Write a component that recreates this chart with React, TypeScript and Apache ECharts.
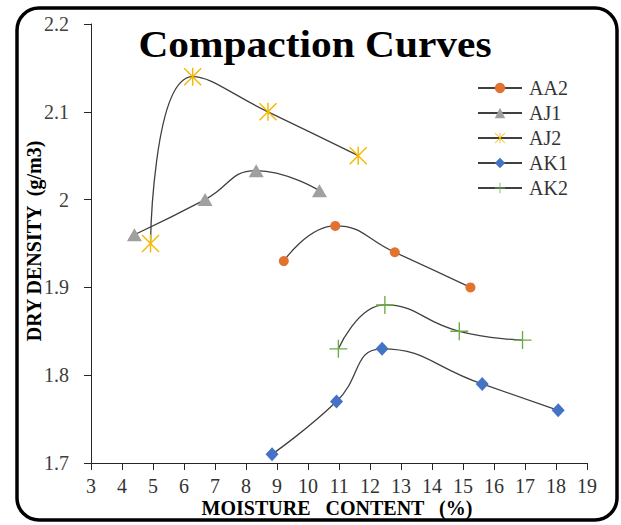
import React, { useEffect, useRef } from "react";
import * as echarts from "echarts";

const xTicks = { min: 3, max: 19, interval: 1 };
const yTicks = { min: 1.7, max: 2.2, interval: 0.1 };

const seriesNames = ["AA2", "AJ1", "AJ2", "AK1", "AK2"];

const aa2X = [9.22, 10.88, 12.8, 15.24];
const aa2Y = [1.93, 1.97, 1.94, 1.9];

const aj1X = [4.4, 6.68, 8.33, 10.37];
const aj1Y = [1.96, 2.0, 2.033, 2.01];

const aj2X = [4.92, 6.28, 8.71, 11.62];
const aj2Y = [1.95, 2.14, 2.1, 2.05];

const ak1X = [8.84, 10.92, 12.39, 15.62, 18.07];
const ak1Y = [1.71, 1.77, 1.83, 1.79, 1.76];

const ak2X = [10.98, 12.48, 14.88, 16.92];
const ak2Y = [1.83, 1.88, 1.85, 1.84];

const pairs = (xs: number[], ys: number[]) => xs.map((x, i) => [x, ys[i]]);

const ASTERISK =
  "path://M9.2 0L10.8 0L10.8 20L9.2 20Z M1.1 0L20 18.9L18.9 20L0 1.1Z M20 1.1L1.1 20L0 18.9L18.9 0Z";
const PLUS = "path://M9.25 0L10.75 0L10.75 20L9.25 20Z M0 9.25L20 9.25L20 10.75L0 10.75Z";

const FONT = "Liberation Serif";

export default function App() {
  const ref = useRef<HTMLDivElement>(null);

  useEffect(() => {
    document.body.style.margin = "0";
    const chart = echarts.init(ref.current!, undefined, { renderer: "svg" });

    const lineStyle = { color: "#404040", width: 1.3 };
    const mk = (
      name: string,
      data: number[][],
      symbol: string,
      size: number | number[],
      color: string
    ) => ({
      name,
      type: "line",
      data,
      smooth: 0.5,
      symbol,
      symbolSize: size,
      showAllSymbol: true,
      lineStyle,
      itemStyle: { color, borderWidth: 0 },
      color: "#404040",
      z: 3,
    });

    chart.setOption({
      animation: false,
      textStyle: { fontFamily: FONT },
      grid: { left: 91, right: 34, top: 24, bottom: 62 },
      xAxis: {
        type: "value",
        min: xTicks.min,
        max: xTicks.max,
        interval: xTicks.interval,
        splitLine: { show: false },
        axisLine: { lineStyle: { color: "#262626", width: 1 } },
        axisTick: { show: true, length: 7, lineStyle: { color: "#262626" } },
        axisLabel: { fontSize: 20, color: "#333", margin: 13, fontFamily: FONT },
      },
      yAxis: {
        type: "value",
        min: yTicks.min,
        max: yTicks.max,
        interval: yTicks.interval,
        splitLine: { show: false },
        axisLine: { show: true, lineStyle: { color: "#262626", width: 1 } },
        axisTick: { show: true, length: 7, lineStyle: { color: "#262626" } },
        axisLabel: { fontSize: 20, color: "#404040", margin: 22, fontFamily: FONT },
      },
      legend: {
        data: seriesNames,
        orient: "vertical",
        left: 477,
        top: 78,
        padding: 0,
        itemWidth: 44,
        itemHeight: 13,
        itemGap: 5,
        textStyle: { fontSize: 20, color: "#333", fontFamily: FONT, padding: [0, 0, 0, 2] },
      },
      series: [
        mk(seriesNames[0], pairs(aa2X, aa2Y), "circle", 10, "#E2722F"),
        mk(seriesNames[1], pairs(aj1X, aj1Y), "triangle", [15, 13], "#A0A0A0"),
        mk(seriesNames[2], pairs(aj2X, aj2Y), ASTERISK, 18, "#F5B800"),
        mk(seriesNames[3], pairs(ak1X, ak1Y), "diamond", [13, 14], "#4472C4"),
        mk(seriesNames[4], pairs(ak2X, ak2Y), PLUS, 18, "#6AAB44"),
      ],
      graphic: [
        {
          type: "rect",
          shape: { x: 17, y: 8, width: 600, height: 512, r: 22 },
          style: { fill: "none", stroke: "#000", lineWidth: 3.5 },
          silent: true,
        },
        {
          type: "text",
          x: 315,
          y: 45,
          scaleX: 1.09,
          style: {
            text: "Compaction Curves",
            fontFamily: FONT,
            fontWeight: "bold",
            fontSize: 38,
            fill: "#000",
            textAlign: "center",
            textVerticalAlign: "middle",
          },
        },
        {
          type: "text",
          x: 337,
          y: 508,
          style: {
            text: "MOISTURE   CONTENT   (%)",
            fontFamily: FONT,
            fontWeight: "bold",
            fontSize: 20,
            fill: "#000",
            textAlign: "center",
            textVerticalAlign: "middle",
          },
        },
        {
          type: "text",
          x: 34,
          y: 241,
          rotation: Math.PI / 2,
          style: {
            text: "DRY DENSITY  (g/m3)",
            fontFamily: FONT,
            fontWeight: "bold",
            fontSize: 20,
            fill: "#000",
            textAlign: "center",
            textVerticalAlign: "middle",
          },
        },
      ],
    });

    return () => chart.dispose();
  }, []);

  return <div ref={ref} style={{ width: 621, height: 525 }} />;
}
